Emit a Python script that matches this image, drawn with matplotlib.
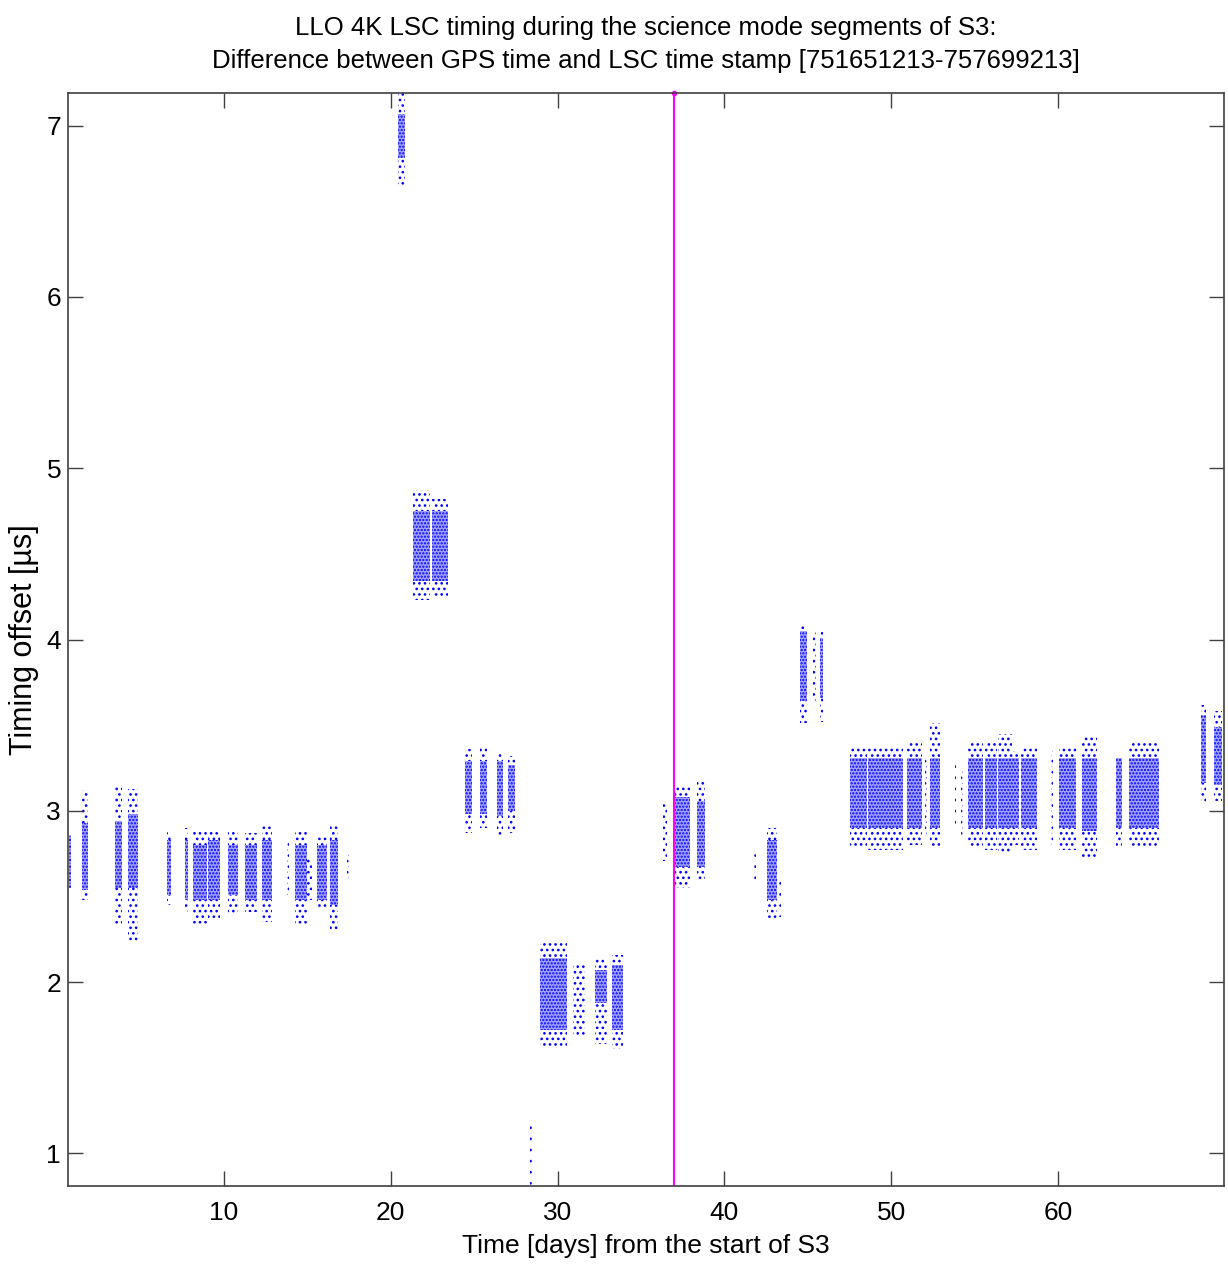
import numpy as np
import matplotlib.pyplot as plt

plt.rcParams['font.family'] = ['Liberation Sans', 'DejaVu Sans']
plt.rcParams['hatch.linewidth'] = 1.1

# science mode segments: start/end [days], core band and full spread [us]
seg_start = [0.68, 1.49, 3.47, 4.25, 6.58, 7.66, 8.14, 9.04, 10.24, 11.26, 12.28, 13.77,
             14.25, 15.00, 15.57, 16.35, 17.37, 20.43, 21.32, 22.46, 24.44, 25.34, 26.36,
             27.02, 28.33, 28.93, 30.91, 32.23, 33.25, 36.30, 36.90, 38.34, 41.80, 42.53,
             43.30, 44.51, 45.29, 45.71, 47.51, 48.59, 50.92, 52.00, 52.30, 53.80, 54.20,
             54.58, 55.60, 56.38, 57.27, 57.81, 59.60, 60.09, 61.41, 63.50, 64.28, 68.60,
             69.38]
seg_end = [0.80, 1.85, 3.89, 4.85, 6.82, 7.84, 8.98, 9.76, 10.84, 11.98, 12.88, 13.90,
           14.97, 15.30, 16.17, 16.83, 17.50, 20.85, 22.34, 23.42, 24.86, 25.76, 26.72,
           27.44, 28.45, 30.55, 31.63, 32.95, 33.91, 36.54, 37.92, 38.82, 41.90, 43.13,
           43.40, 44.93, 45.47, 45.89, 48.53, 50.68, 51.82, 52.12, 52.90, 53.90, 54.30,
           55.48, 56.32, 57.22, 57.69, 58.77, 59.70, 61.11, 62.31, 63.86, 66.08, 68.90,
           69.86]
tail_low = [2.55, 2.48, 2.34, 2.23, 2.45, 2.39, 2.33, 2.36, 2.39, 2.41, 2.35, 2.51,
            2.34, 2.48, 2.44, 2.30, 2.60, 6.64, 4.23, 4.25, 2.87, 2.90, 2.85, 2.87,
            0.80, 1.62, 1.69, 1.64, 1.61, 2.71, 2.55, 2.59, 2.57, 2.37, 2.38, 3.51,
            3.64, 3.52, 2.79, 2.77, 2.80, 2.85, 2.79, 2.90, 2.85, 2.79, 2.77, 2.75,
            2.80, 2.77, 2.80, 2.77, 2.73, 2.79, 2.79, 3.04, 3.06]
tail_high = [2.86, 3.12, 3.14, 3.13, 2.89, 2.90, 2.89, 2.89, 2.89, 2.87, 2.91, 2.83,
             2.88, 2.73, 2.86, 2.92, 2.76, 7.19, 4.87, 4.82, 3.36, 3.37, 3.34, 3.32,
             1.20, 2.24, 2.11, 2.14, 2.16, 3.05, 3.14, 3.18, 2.79, 2.90, 2.60, 4.09,
             4.05, 4.06, 3.37, 3.37, 3.41, 3.30, 3.51, 3.27, 3.25, 3.41, 3.40, 3.45,
             3.35, 3.38, 3.35, 3.37, 3.43, 3.30, 3.40, 3.62, 3.58]
core_low = [2.55, 2.54, 2.55, 2.55, 2.51, 2.48, 2.48, 2.48, 2.51, 2.48, 2.48, None,
            2.48, None, 2.48, 2.45, None, 6.81, 4.34, 4.34, 2.98, 2.98, 2.97, 3.00,
            None, 1.72, None, 1.88, 1.72, None, 2.67, 2.67, None, 2.48, None, 3.64,
            None, 3.66, 2.90, 2.90, 2.90, None, 2.90, None, None, 2.90, 2.90, 2.90,
            2.90, 2.90, None, 2.90, 2.88, 2.90, 2.90, 3.16, 3.15]
core_high = [2.86, 2.93, 2.94, 2.98, 2.83, 2.83, 2.80, 2.83, 2.80, 2.80, 2.83, None,
             2.80, None, 2.80, 2.83, None, 7.07, 4.75, 4.75, 3.29, 3.29, 3.29, 3.27,
             None, 2.14, None, 2.07, 2.10, None, 3.08, 3.06, None, 2.83, None, 4.05,
             None, 4.01, 3.31, 3.31, 3.31, None, 3.31, None, None, 3.31, 3.31, 3.31,
             3.31, 3.31, None, 3.31, 3.31, 3.31, 3.31, 3.56, 3.49]

lock_day = 37.0

fig = plt.figure(figsize=(12.28, 12.69), dpi=100)
ax = fig.add_axes([0.0554, 0.0654, 0.9413, 0.8613])

for i in range(len(seg_start)):
    w = seg_end[i] - seg_start[i]
    ax.bar(seg_start[i], tail_high[i] - tail_low[i], width=w, bottom=tail_low[i],
           align='edge', facecolor='none', edgecolor='blue', linewidth=0, hatch='...')
    if core_low[i] is not None:
        ax.bar(seg_start[i], core_high[i] - core_low[i], width=w, bottom=core_low[i],
               align='edge', facecolor='#a4a4ff', edgecolor='blue', linewidth=0,
               hatch='.....')

ax.plot([lock_day, lock_day], [0.81, 7.19], color='#ff00ff', linewidth=1.5)
ax.plot([lock_day], [7.19], marker='.', color='#ff00ff', markersize=6, clip_on=False)

ax.set_xlim(0.65, 69.95)
ax.set_ylim(0.81, 7.19)
ax.set_xticks([10, 20, 30, 40, 50, 60])
ax.set_yticks([1, 2, 3, 4, 5, 6, 7])
ax.tick_params(direction='in', length=11, width=1, top=True, right=True,
               labelsize=19, color='#404040')
ax.tick_params(axis='x', pad=11)
ax.tick_params(axis='y', pad=5)
for s in ax.spines.values():
    s.set_color('#404040')
    s.set_linewidth(1.2)

ax.set_xlabel('Time [days] from the start of S3', fontsize=19, labelpad=6)
ax.set_ylabel('Timing offset [\u00b5s]', fontsize=22, labelpad=5)
ax.set_title('LLO 4K LSC timing during the science mode segments of S3:\n'
             'Difference between GPS time and LSC time stamp [751651213-757699213]',
             fontsize=18.5, pad=18, linespacing=1.5)

fig.savefig('out.png', dpi=100)
